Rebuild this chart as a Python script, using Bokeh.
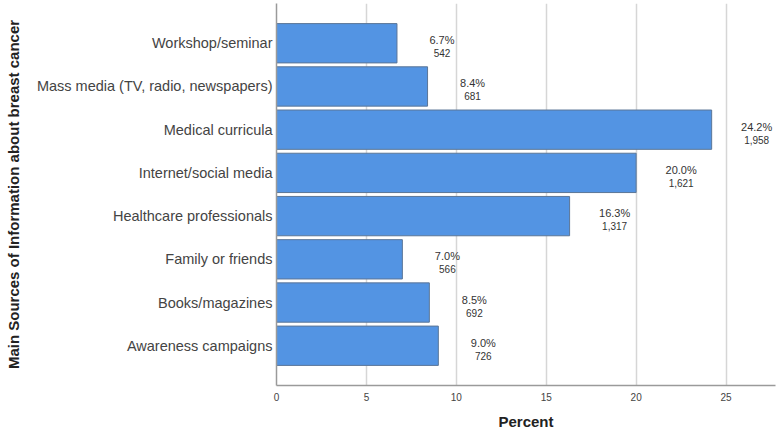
from bokeh.plotting import figure
from bokeh.models import FactorRange, Range1d, FixedTicker, ColumnDataSource
from bokeh.core.properties import value
from bokeh.embed import file_html
from bokeh.resources import INLINE

# Sources of information, listed top to bottom
sources = [
    "Workshop/seminar",
    "Mass media (TV, radio, newspapers)",
    "Medical curricula",
    "Internet/social media",
    "Healthcare professionals",
    "Family or friends",
    "Books/magazines",
    "Awareness campaigns",
]
percents = [6.7, 8.4, 24.2, 20.0, 16.3, 7.0, 8.5, 9.0]
counts = [542, 681, 1958, 1621, 1317, 566, 692, 726]
x_ticks = [0, 5, 10, 15, 20, 25]

FONT = "Liberation Sans"

src = ColumnDataSource(dict(
    source=sources,
    pct=percents,
    pct_label=[f"{v:.1f}%" for v in percents],
    cnt_label=[f"{c:,}" for c in counts],
))

y_range = FactorRange(factors=list(reversed(sources)),
                      range_padding=0.42, range_padding_units="absolute")

p = figure(width=778, height=432, y_range=y_range, x_range=Range1d(0, 27.75),
           output_backend="svg", toolbar_location=None,
           min_border_left=276, min_border_right=3,
           min_border_top=3, min_border_bottom=46)

p.outline_line_color = None
p.background_fill_color = "white"
p.border_fill_color = "white"

p.hbar(y="source", right="pct", left=0, height=0.91, source=src,
       fill_color="#5394e3", line_color="#5b7697", line_width=1)

p.text(x="pct", y="source", text="pct_label", source=src,
       x_offset=45, y_offset=-3, text_align="center", text_baseline="middle",
       text_font=value(FONT), text_font_size="11px", text_color="#333333")
p.text(x="pct", y="source", text="cnt_label", source=src,
       x_offset=45, y_offset=10, text_align="center", text_baseline="middle",
       text_font=value(FONT), text_font_size="10px", text_color="#333333")

# Vertical grid only
p.ygrid.grid_line_color = None
p.xgrid.ticker = FixedTicker(ticks=x_ticks)
p.xgrid.grid_line_color = "#d6d6d6"
p.xgrid.grid_line_width = 1.5
p.xgrid.level = "underlay"

# Bottom axis
p.xaxis.ticker = FixedTicker(ticks=x_ticks)
p.xaxis.axis_label = "Percent"
p.xaxis.axis_label_text_font = FONT
p.xaxis.axis_label_text_font_style = "bold"
p.xaxis.axis_label_text_font_size = "15px"
p.xaxis.axis_label_text_color = "#222222"
p.xaxis.axis_label_standoff = 9
p.xaxis.major_label_text_font = FONT
p.xaxis.major_label_text_font_size = "10px"
p.xaxis.major_label_text_color = "#444444"
p.xaxis.major_label_standoff = 7
p.xaxis.major_tick_out = 0
p.xaxis.major_tick_in = 0
p.xaxis.minor_tick_out = 0
p.xaxis.major_tick_line_color = None
p.xaxis.minor_tick_line_color = None
p.xaxis.axis_line_color = "#9a9a9a"
p.xaxis.axis_line_width = 1.5

# Left axis
p.yaxis.axis_label = "Main Sources of Information about breast cancer"
p.yaxis.axis_label_text_font = FONT
p.yaxis.axis_label_text_font_style = "bold"
p.yaxis.axis_label_text_font_size = "15px"
p.yaxis.axis_label_text_color = "#222222"
p.yaxis.axis_label_standoff = 12
p.yaxis.major_label_text_font = FONT
p.yaxis.major_label_text_font_size = "14.5px"
p.yaxis.major_label_text_color = "#444444"
p.yaxis.major_label_standoff = 4
p.yaxis.major_tick_out = 0
p.yaxis.major_tick_in = 0
p.yaxis.minor_tick_out = 0
p.yaxis.major_tick_line_color = None
p.yaxis.minor_tick_line_color = None
p.yaxis.axis_line_color = "#9a9a9a"
p.yaxis.axis_line_width = 1.5

open("out.html", "w").write(file_html(p, INLINE))
